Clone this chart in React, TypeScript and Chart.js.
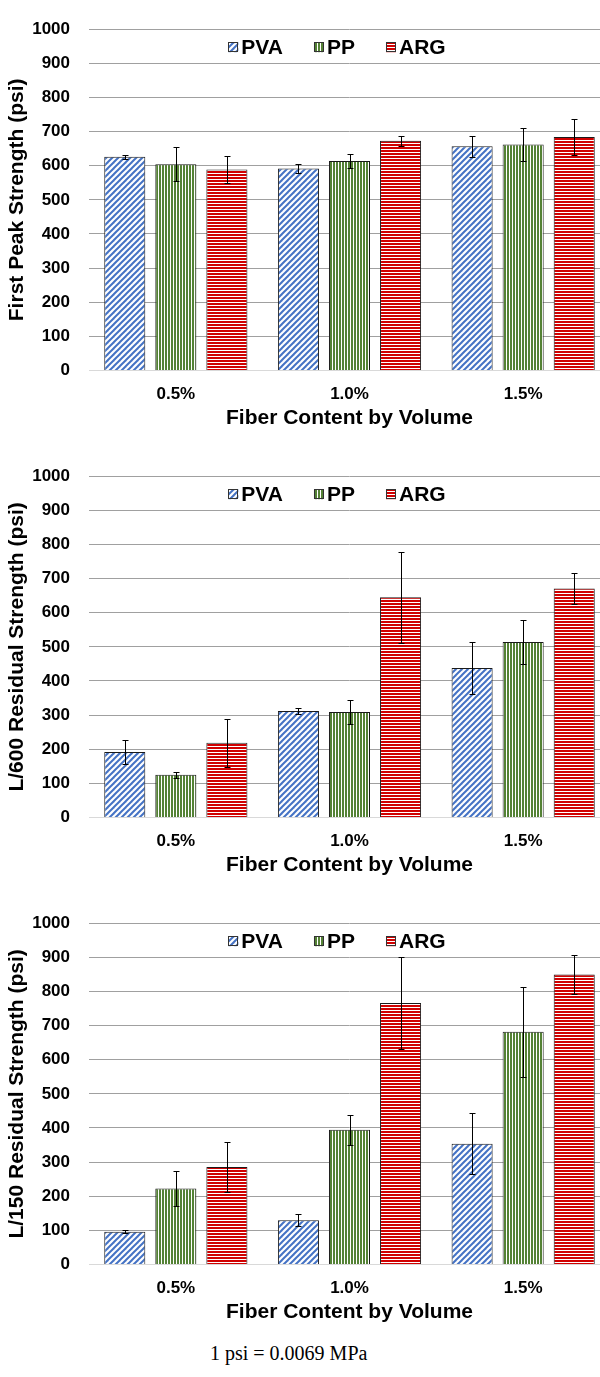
import React, { useEffect, useRef } from 'react';
import { Chart, registerables } from 'chart.js';
Chart.register(...registerables);

const categories = ['0.5%', '1.0%', '1.5%'];
const seriesNames = ['PVA', 'PP', 'ARG'];
const xTitle = 'Fiber Content by Volume';
const yTicksMax = 1000;
const yTickStep = 100;

const firstPeakPVA = [626, 592, 657];
const firstPeakPP = [604, 614, 662];
const firstPeakARG = [589, 673, 684];
const firstPeakErrPVA = [5, 14, 30];
const firstPeakErrPP = [50, 21, 48];
const firstPeakErrARG = [40, 14, 52];

const l600PVA = [192, 312, 438];
const l600PP = [125, 309, 514];
const l600ARG = [219, 645, 671];
const l600ErrPVA = [35, 9, 75];
const l600ErrPP = [9, 34, 65];
const l600ErrARG = [71, 134, 44];

const l150PVA = [96, 130, 354];
const l150PP = [223, 395, 682];
const l150ARG = [286, 766, 850];
const l150ErrPVA = [4, 17, 90];
const l150ErrPP = [52, 44, 132];
const l150ErrARG = [74, 135, 56];

const caption = '1 psi = 0.0069 MPa';

const FONT = "'Liberation Sans', Arial, sans-serif";

function makePattern(kind: string): CanvasPattern {
  const c = document.createElement('canvas');
  const g = c.getContext('2d')!;
  if (kind === 'diag') {
    const s = 6;
    c.width = s; c.height = s;
    g.fillStyle = '#ffffff';
    g.fillRect(0, 0, s, s);
    g.strokeStyle = '#4472C4';
    g.lineWidth = 2;
    for (const o of [-s, 0, s]) {
      g.beginPath();
      g.moveTo(o - 1, s + 1);
      g.lineTo(o + s + 1, -1);
      g.stroke();
    }
  } else if (kind === 'vert') {
    c.width = 3; c.height = 1;
    g.fillStyle = '#ffffff';
    g.fillRect(0, 0, 3, 1);
    g.fillStyle = '#548235';
    g.fillRect(0, 0, 2, 1);
  } else {
    c.width = 1; c.height = 3;
    g.fillStyle = '#ffffff';
    g.fillRect(0, 0, 1, 3);
    g.fillStyle = '#D00000';
    g.fillRect(0, 0, 1, 2);
  }
  return g.createPattern(c, 'repeat')!;
}

function errorBarPlugin(errs: number[][]) {
  return {
    id: 'errorBars',
    afterDatasetsDraw(chart: any) {
      const ctx = chart.ctx;
      const ys = chart.scales.y;
      ctx.save();
      ctx.strokeStyle = '#000';
      ctx.lineWidth = 1;
      chart.data.datasets.forEach((ds: any, d: number) => {
        const meta = chart.getDatasetMeta(d);
        meta.data.forEach((bar: any, i: number) => {
          const v = ds.data[i];
          const e = errs[d][i];
          const x = Math.round(bar.x) + 0.5;
          const y1 = Math.round(ys.getPixelForValue(v + e)) + 0.5;
          const y2 = Math.round(ys.getPixelForValue(v - e)) + 0.5;
          ctx.beginPath();
          ctx.moveTo(x, y1); ctx.lineTo(x, y2);
          ctx.moveTo(x - 3, y1); ctx.lineTo(x + 3, y1);
          ctx.moveTo(x - 3, y2); ctx.lineTo(x + 3, y2);
          ctx.stroke();
        });
      });
      ctx.restore();
    },
  };
}

function legendPlugin(patterns: CanvasPattern[]) {
  return {
    id: 'innerLegend',
    afterDraw(chart: any) {
      const ctx = chart.ctx;
      ctx.save();
      ctx.font = `bold 21px ${FONT}`;
      ctx.textBaseline = 'middle';
      const box = 10, gapText = 3, gapItem = 31;
      const widths = seriesNames.map((n) => box + gapText + ctx.measureText(n).width);
      const total = widths.reduce((a, b) => a + b, 0) + gapItem * (widths.length - 1);
      let x = 337 - total / 2;
      const yc = chart.chartArea.top + 18;
      seriesNames.forEach((n, k) => {
        ctx.fillStyle = patterns[k];
        ctx.fillRect(x, yc - box / 2, box, box);
        ctx.strokeStyle = '#333';
        ctx.lineWidth = 1;
        ctx.strokeRect(Math.round(x) + 0.5, Math.round(yc - box / 2) + 0.5, box - 1, box - 1);
        ctx.fillStyle = '#000';
        ctx.fillText(n, x + box + gapText, yc + 1);
        x += widths[k] + gapItem;
      });
      ctx.restore();
    },
  };
}

function BarChart({ yTitle, values, errors }: { yTitle: string; values: number[][]; errors: number[][] }) {
  const ref = useRef<HTMLCanvasElement>(null);
  useEffect(() => {
    const patterns = [makePattern('diag'), makePattern('vert'), makePattern('horiz')];
    const chart = new Chart(ref.current!, {
      type: 'bar',
      data: {
        labels: categories,
        datasets: seriesNames.map((n, k) => ({
          label: n,
          data: values[k],
          backgroundColor: patterns[k] as any,
          borderColor: '#1a1a1a',
          borderWidth: 1,
          categoryPercentage: 0.882,
          barPercentage: 0.804,
        })),
      },
      options: {
        responsive: false,
        animation: false,
        devicePixelRatio: 1,
        layout: { padding: { top: 14, right: 2, left: 0, bottom: 0 } },
        plugins: { legend: { display: false }, tooltip: { enabled: false } },
        scales: {
          x: {
            grid: { display: false, drawTicks: false },
            border: { display: true, color: '#D9D9D9', width: 1 },
            ticks: { padding: 14, color: '#000', font: { family: FONT, size: 17, weight: 'bold' } },
            title: {
              display: true,
              text: xTitle,
              color: '#000',
              font: { family: FONT, size: 21, weight: 'bold' },
              padding: { top: 0, bottom: 16 },
            },
            afterFit: (s: any) => { s.height = 76.5; },
          } as any,
          y: {
            min: 0,
            max: yTicksMax,
            ticks: {
              stepSize: yTickStep,
              padding: 19,
              color: '#000',
              font: { family: FONT, size: 17, weight: 'bold' },
              callback: (v: any) => String(v),
            },
            grid: {
              color: (c: any) => (c.tick && c.tick.value === 0 ? '#D9D9D9' : '#A0A0A0'),
              drawTicks: false,
              lineWidth: 1,
            },
            border: { display: false },
            title: {
              display: true,
              text: yTitle,
              color: '#000',
              font: { family: FONT, size: 21, weight: 'bold' },
              padding: { top: 5, bottom: 0 },
            },
            afterFit: (s: any) => { s.width = 89; },
          } as any,
        },
      },
      plugins: [errorBarPlugin(errors), legendPlugin(patterns)],
    });
    return () => chart.destroy();
  }, []);
  return <canvas ref={ref} width={612} height={447} style={{ display: 'block' }} />;
}

export default function App() {
  useEffect(() => {
    document.body.style.margin = '0';
  }, []);
  return (
    <div style={{ width: 600, overflow: 'hidden', background: '#fff' }}>
      <BarChart
        yTitle="First Peak Strength (psi)"
        values={[firstPeakPVA, firstPeakPP, firstPeakARG]}
        errors={[firstPeakErrPVA, firstPeakErrPP, firstPeakErrARG]}
      />
      <BarChart
        yTitle="L/600 Residual Strength (psi)"
        values={[l600PVA, l600PP, l600ARG]}
        errors={[l600ErrPVA, l600ErrPP, l600ErrARG]}
      />
      <BarChart
        yTitle="L/150 Residual Strength (psi)"
        values={[l150PVA, l150PP, l150ARG]}
        errors={[l150ErrPVA, l150ErrPP, l150ErrARG]}
      />
      <div
        style={{
          fontFamily: "'Liberation Serif', 'Times New Roman', serif",
          fontSize: 20,
          lineHeight: '24px',
          paddingLeft: 210,
          color: '#000',
        }}
      >
        {caption}
      </div>
    </div>
  );
}
